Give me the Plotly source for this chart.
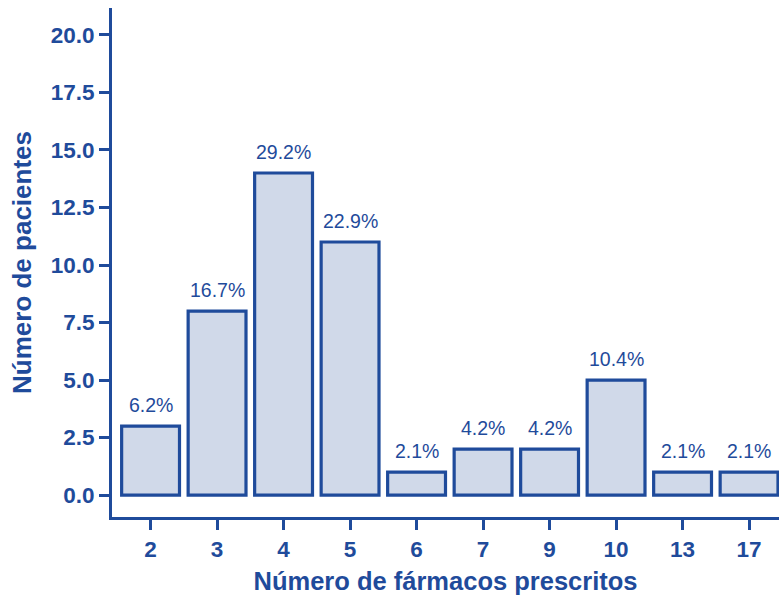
import plotly.graph_objects as go

# Number of prescribed drugs per patient and how many patients had each count
farmacos = ["2", "3", "4", "5", "6", "7", "9", "10", "13", "17"]
pacientes = [3, 8, 14, 11, 1, 2, 2, 5, 1, 1]

total = sum(pacientes)
porcentajes = [f"{100 * v / total:.1f}%" for v in pacientes]

AZUL = "#1f4b9b"
RELLENO = "#d0d9e9"
FUENTE = "Liberation Sans, Arial, sans-serif"

fig = go.Figure(
    go.Bar(
        x=farmacos,
        y=pacientes,
        width=0.87,
        marker=dict(color=RELLENO, line=dict(color=AZUL, width=3.2)),
        hoverinfo="skip",
    )
)

# percentage labels above each bar (x given as category position)
for i, (val, txt) in enumerate(zip(pacientes, porcentajes)):
    fig.add_annotation(
        x=i, y=val, text=txt, showarrow=False,
        yanchor="bottom", yshift=8,
        font=dict(family=FUENTE, size=19.5, color=AZUL),
    )

fig.update_layout(
    width=779, height=599,
    margin=dict(l=112, r=0, t=8, b=82),
    plot_bgcolor="white", paper_bgcolor="white",
    showlegend=False,
    font=dict(family=FUENTE, color=AZUL),
    xaxis=dict(
        type="category",
        range=[-0.58, 9.45],
        showline=True, linecolor=AZUL, linewidth=3,
        ticks="outside", ticklen=10, tickwidth=3, tickcolor=AZUL,
        tickfont=dict(family=FUENTE, size=22.5, color=AZUL, weight="bold"),
        showgrid=False, zeroline=False,
        title=dict(text="Número de fármacos prescritos", standoff=12,
                   font=dict(family=FUENTE, size=25.5, color=AZUL, weight="bold")),
    ),
    yaxis=dict(
        range=[-0.95, 21.17],
        tickvals=[0, 2.5, 5, 7.5, 10, 12.5, 15, 17.5, 20],
        tickformat=".1f",
        showline=True, linecolor=AZUL, linewidth=3,
        ticks="outside", ticklen=10, tickwidth=3, tickcolor=AZUL,
        tickfont=dict(family=FUENTE, size=22.5, color=AZUL, weight="bold"),
        showgrid=False, zeroline=False,
        title=dict(text="Número de pacientes", standoff=12,
                   font=dict(family=FUENTE, size=26, color=AZUL, weight="bold")),
    ),
)

fig.write_html("out.html")
